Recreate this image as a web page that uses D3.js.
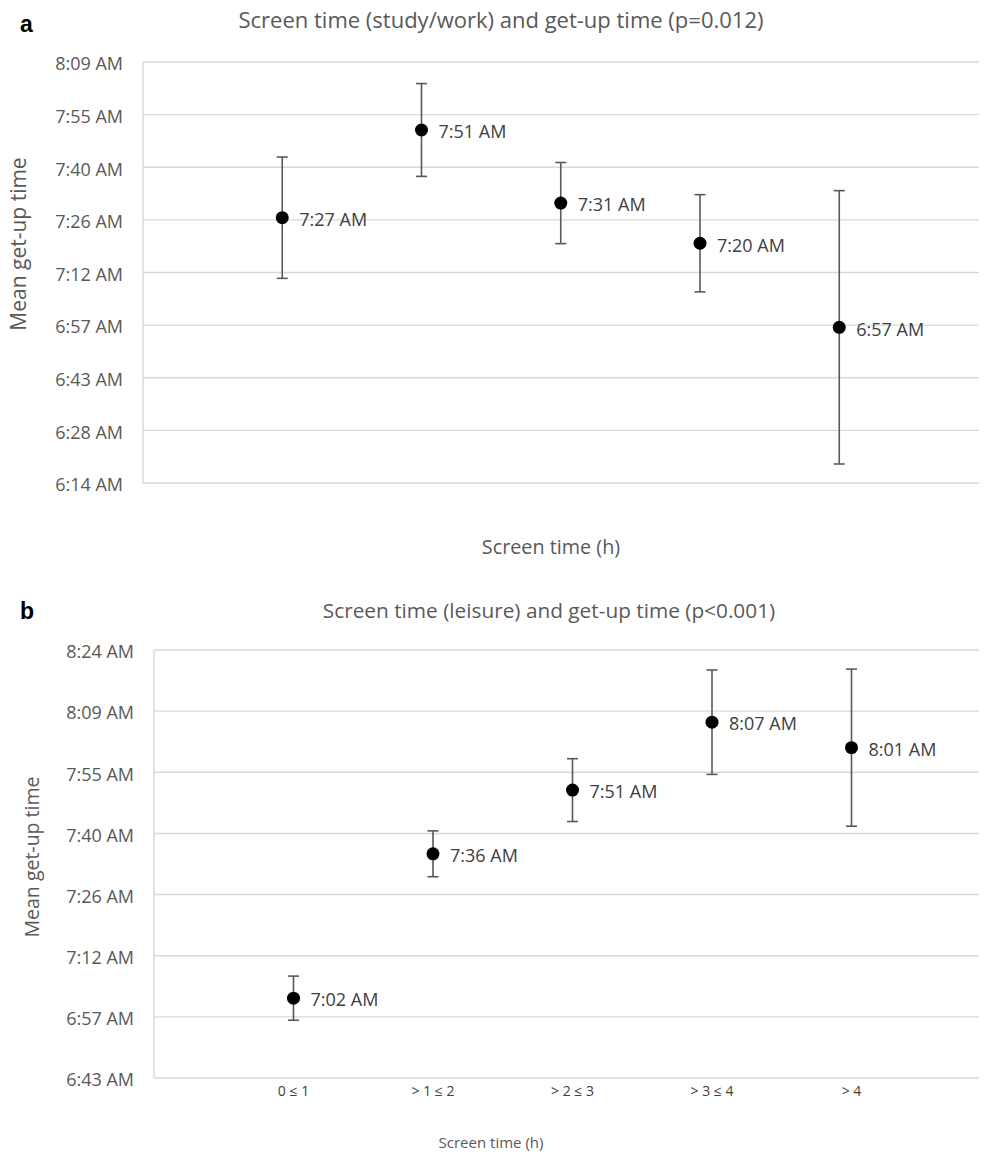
<!DOCTYPE html>
<html>
<head>
<meta charset="utf-8">
<script src="https://cdn.jsdelivr.net/npm/d3@7"></script>
<style>
  body { margin: 0; background: #fff; }
  svg { display: block; font-family: "Open Sans", sans-serif; }
</style>
</head>
<body>
<svg width="987" height="1155"></svg>
<script>
// values are minutes after midnight
const workMean = [447, 471, 451, 440, 417];
const workErr = [16.6, 12.7, 11.1, 13.3, 37.4];
const workTicks = [0.26, 0.27, 0.28, 0.29, 0.30, 0.31, 0.32, 0.33, 0.34]; // fraction of a day
const workTickLabels = ["6:14 AM", "6:28 AM", "6:43 AM", "6:57 AM", "7:12 AM", "7:26 AM", "7:40 AM", "7:55 AM", "8:09 AM"];

const leisureCats = ["0 \u2264 1", "> 1 \u2264 2", "> 2 \u2264 3", "> 3 \u2264 4", "> 4"];
const leisureMean = [422, 456, 471, 487, 481];
const leisureErr = [5.2, 5.4, 7.4, 12.3, 18.5];
const leisureTicks = [0.28, 0.29, 0.30, 0.31, 0.32, 0.33, 0.34, 0.35];
const leisureTickLabels = ["6:43 AM", "6:57 AM", "7:12 AM", "7:26 AM", "7:40 AM", "7:55 AM", "8:09 AM", "8:24 AM"];

const svg = d3.select("svg");
const grey = "#595959";

function fmt(m) {
  const h = Math.floor(m / 60), mm = Math.round(m % 60);
  return h + ":" + String(mm).padStart(2, "0") + " AM";
}

function drawPanel(p) {
  const g = svg.append("g");

  const y = d3.scaleLinear()
      .domain([p.ticks[0] * 1440, p.ticks[p.ticks.length - 1] * 1440])
      .range([p.bottom, p.top]);
  const x = d3.scaleLinear().domain([0, 6]).range([p.left, p.left + 6 * p.step]);

  // panel letter + title
  g.append("text").attr("x", 20).attr("y", p.letterY)
      .style("font-family", "Liberation Sans, Arial").style("font-weight", "bold")
      .style("font-size", "23px").attr("fill", "#000").text(p.letter);
  g.append("text").attr("x", p.titleX).attr("y", p.titleY)
      .attr("text-anchor", "middle").style("font-size", p.titleSize)
      .attr("fill", grey).text(p.title);

  // gridlines
  g.append("g").selectAll("line")
      .data(p.ticks)
      .join("line")
      .attr("x1", p.left).attr("x2", p.right)
      .attr("y1", d => y(d * 1440)).attr("y2", d => y(d * 1440))
      .attr("stroke", "#d9d9d9").attr("stroke-width", 1.4);
  g.append("line")
      .attr("x1", p.left).attr("x2", p.left)
      .attr("y1", p.top).attr("y2", p.bottom)
      .attr("stroke", "#d9d9d9").attr("stroke-width", 1.4);

  // y tick labels
  g.append("g").selectAll("text")
      .data(p.ticks)
      .join("text")
      .attr("x", p.left - 20)
      .attr("y", d => y(d * 1440) + 2)
      .attr("dy", "0.35em")
      .attr("text-anchor", "end")
      .style("font-size", "18px")
      .attr("fill", grey)
      .text((d, i) => p.tickLabels[i]);

  // y axis title
  g.append("text")
      .attr("transform", `translate(${p.yTitleX},${p.yTitleY}) rotate(-90)`)
      .attr("text-anchor", "middle")
      .style("font-size", p.yTitleSize)
      .attr("fill", grey)
      .text("Mean get-up time");

  // x axis title
  g.append("text").attr("x", p.xTitleX).attr("y", p.xTitleY)
      .attr("text-anchor", "middle").style("font-size", p.xTitleSize)
      .attr("fill", grey).text("Screen time (h)");

  // x category labels
  if (p.cats) {
    g.append("g").selectAll("text")
        .data(p.cats)
        .join("text")
        .attr("x", (d, i) => x(i + 1))
        .attr("y", p.bottom + 18)
        .attr("text-anchor", "middle")
        .style("font-size", "14px")
        .attr("fill", "#404040")
        .text(d => d);
  }

  const pts = p.mean.map((m, i) => ({i: i + 1, m: m, e: p.err[i]}));

  // error bars
  const eb = g.append("g").attr("stroke", grey).attr("stroke-width", 1.6);
  eb.selectAll(".stem").data(pts).join("line")
      .attr("x1", d => x(d.i)).attr("x2", d => x(d.i))
      .attr("y1", d => y(d.m + d.e)).attr("y2", d => y(d.m - d.e));
  eb.selectAll(".capT").data(pts).join("line")
      .attr("x1", d => x(d.i) - 5.5).attr("x2", d => x(d.i) + 5.5)
      .attr("y1", d => y(d.m + d.e)).attr("y2", d => y(d.m + d.e));
  eb.selectAll(".capB").data(pts).join("line")
      .attr("x1", d => x(d.i) - 5.5).attr("x2", d => x(d.i) + 5.5)
      .attr("y1", d => y(d.m - d.e)).attr("y2", d => y(d.m - d.e));

  // points
  g.append("g").selectAll("circle")
      .data(pts)
      .join("circle")
      .attr("cx", d => x(d.i)).attr("cy", d => y(d.m))
      .attr("r", 6.5).attr("fill", "#000");

  // data labels
  g.append("g").selectAll("text")
      .data(pts)
      .join("text")
      .attr("x", d => x(d.i) + 17)
      .attr("y", d => y(d.m) + 2)
      .attr("dy", "0.35em")
      .style("font-size", "18px")
      .attr("fill", "#404040")
      .text(d => fmt(d.m));
}

drawPanel({
  letter: "a", letterY: 32,
  title: "Screen time (study/work) and get-up time (p=0.012)", titleX: 501, titleY: 28, titleSize: "22px",
  top: 62, bottom: 483, left: 143, right: 979, step: 139.25,
  ticks: workTicks, tickLabels: workTickLabels,
  mean: workMean, err: workErr,
  yTitleX: 26, yTitleY: 244, yTitleSize: "21px",
  xTitleX: 551, xTitleY: 554, xTitleSize: "19.8px"
});

drawPanel({
  letter: "b", letterY: 619,
  title: "Screen time (leisure) and get-up time (p<0.001)", titleX: 549, titleY: 618, titleSize: "20.8px",
  top: 650, bottom: 1078, left: 154, right: 979, step: 139.5,
  ticks: leisureTicks, tickLabels: leisureTickLabels,
  mean: leisureMean, err: leisureErr, cats: leisureCats,
  yTitleX: 39, yTitleY: 857, yTitleSize: "19.5px",
  xTitleX: 491, xTitleY: 1148, xTitleSize: "15px"
});
</script>
</body>
</html>
